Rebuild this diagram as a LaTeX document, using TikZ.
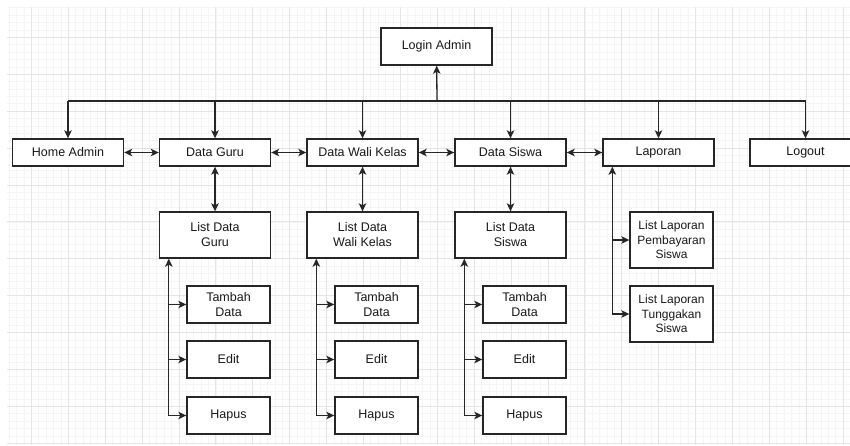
\documentclass[tikz,border=0pt]{standalone}
\usepackage{fontspec}
\setmainfont{Liberation Sans}
\usetikzlibrary{arrows.meta}

\tikzset{
  box/.style={draw=black!85, line width=1.4pt, fill=white, minimum width=111pt,
    minimum height=27pt, inner sep=0pt, text=black!90,
    font=\fontsize{12.5}{15}\selectfont},
  listbox/.style={box, minimum height=46pt, align=center},
  subbox/.style={box, minimum width=83pt, minimum height=37pt, align=center},
  lapbox/.style={subbox, minimum height=56pt, font=\fontsize{12}{14.3}\selectfont},
  tip/.tip={Stealth[length=8pt,width=7.5pt,inset=2pt]},
  arr/.style={-tip, line width=1.3pt, draw=black!85},
  dbl/.style={tip-tip, line width=1.3pt, draw=black!85},
  gminor/.style={draw=black!4, line width=0.6pt},
  gmajor/.style={draw=black!10, line width=0.8pt}
}

\begin{document}
\begin{tikzpicture}[x=1pt,y=-1pt]
\clip (0,0) rectangle (850,445);
% grid of the canvas
\foreach \k in {-3,...,111} \draw[gminor] (31.3+7.38*\k,7) -- (31.3+7.38*\k,445);
\foreach \k in {-4,...,55} \draw[gminor] (7,37.3+7.38*\k) -- (850,37.3+7.38*\k);
\foreach \k in {0,...,22} \draw[gmajor] (31.3+36.9*\k,7) -- (31.3+36.9*\k,445);
\foreach \k in {0,...,11} \draw[gmajor] (7,37.3+36.9*\k) -- (850,37.3+36.9*\k);
%%%%%%%%%%%%%%%%%%%%%%%%%%%%%%%%%%%%%
\node[box, minimum height=37pt] (login) at (436.5,46.5) {Login Admin};
\coordinate (bus) at (437,101);
%
\node[box] (home)   at (68,152.5)    {Home Admin};
\node[box] (guru)   at (215,152.5)   {Data Guru};
\node[box] (wali)   at (362.5,152.5) {Data Wali Kelas};
\node[box] (siswa)  at (510.5,152.5) {Data Siswa};
\node[box] (lap)    at (658.5,152.5) {Laporan};
\node[box] (logout) at (805.5,152.5) {Logout};
%
\node[listbox] (lguru)  at (215,235)   {List Data\\Guru};
\node[listbox] (lwali)  at (362.5,235) {List Data\\Wali Kelas};
\node[listbox] (lsiswa) at (510.5,235) {List Data\\Siswa};
%
\foreach \n/\x in {guru/228.5, wali/376.5, siswa/524.5}{
    \node[subbox] (t\n) at (\x,304.5) {Tambah\\Data};
    \node[subbox] (e\n) at (\x,359.5) {Edit};
    \node[subbox] (h\n) at (\x,415.5) {Hapus};
}
%
\node[lapbox] (lbayar)   at (671.5,240) {List Laporan\\Pembayaran\\Siswa};
\node[lapbox] (ltunggak) at (671.5,314) {List Laporan\\Tunggakan\\Siswa};
%%%%%%%%%%%%%%%%%%%%%%%%%%%%%%%%%%%%%
% menu bar
\draw[arr] (bus) -- (login);
\draw[line width=1.3pt, draw=black!85] (bus -| home) -- (bus -| logout);
\foreach \n in {home,guru,wali,siswa,lap,logout}
    \draw[arr] (bus -| \n) -- (\n.north);
\draw[dbl] (home) -- (guru);
\draw[dbl] (guru) -- (wali);
\draw[dbl] (wali) -- (siswa);
\draw[dbl] (siswa) -- (lap);
% lists
\foreach \n in {guru,wali,siswa}{
    \draw[dbl] (\n) -- (l\n);
    \coordinate (b\n) at ([xshift=10pt]l\n.south west);
    \draw[dbl] (b\n) |- (h\n.west);
    \draw[arr] (b\n |- e\n.west) -- (e\n.west);
    \draw[arr] (b\n |- t\n.west) -- (t\n.west);
}
\coordinate (blap) at ([xshift=10pt]lap.south west);
\draw[dbl] (blap) |- (ltunggak.west);
\draw[arr] (blap |- lbayar.west) -- (lbayar.west);
\end{tikzpicture}
\end{document}
